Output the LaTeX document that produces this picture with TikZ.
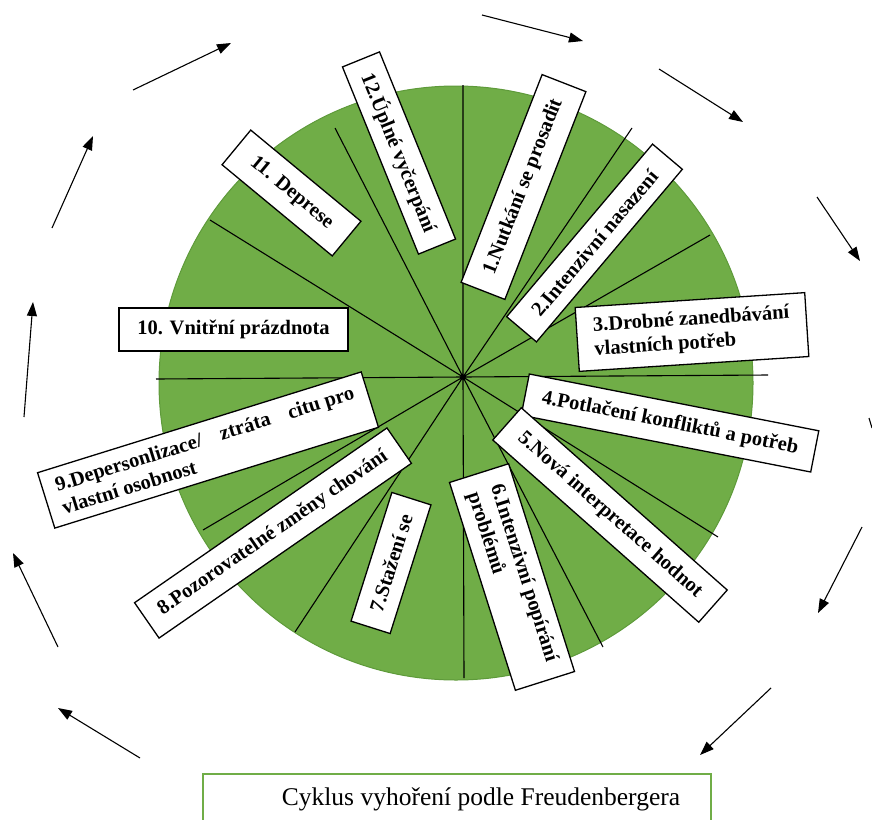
\documentclass[tikz,border=0pt]{standalone}
\usepackage{fontspec}
\setmainfont{Liberation Serif}
\usetikzlibrary{arrows.meta}
\definecolor{grn}{HTML}{70AD47}
\definecolor{grnd}{HTML}{5E9A3A}
\begin{document}
\begin{tikzpicture}[x=1pt,y=-1pt,
  lab/.style={draw=black, line width=1.3pt, fill=white, inner sep=0pt,
    font=\bfseries\fontsize{20.5}{24}\selectfont, align=center},
  spoke/.style={line width=1.1pt},
  cyc/.style={line width=1.1pt, -{Triangle[length=14pt,width=10pt]}}]
\useasboundingbox (0,0) rectangle (872,819);
% disc
\node[circle, minimum size=594pt, inner sep=0pt, fill=grn, draw=grnd, line width=1pt] (disc) at (456,383) {};
% spokes
\coordinate (hub) at (463,377);
\coordinate (s1) at (463,85);
\coordinate (s2) at (632,128);
\coordinate (s3) at (710,235);
\coordinate (s4) at (768,375);
\coordinate (s5) at (718,537);
\coordinate (s6) at (603,647);
\coordinate (s7) at (464,678);
\coordinate (s8) at (295,632);
\coordinate (s9) at (203,530);
\coordinate (s10) at (156,379);
\coordinate (s11) at (210,220);
\coordinate (s12) at (335,128);
\draw[spoke] (hub) -- (s1) (hub) -- (s2) (hub) -- (s3) (hub) -- (s4)
  (hub) -- (s5) (hub) -- (s6) (hub) -- (s7) (hub) -- (s8)
  (hub) -- (s9) (hub) -- (s10) (hub) -- (s11) (hub) -- (s12);
% boxes
\node[lab, minimum width=223pt, minimum height=47pt, rotate=68.7] (b1) at (523.5,187) {1.Nutkání se prosadit};
\node[lab, minimum width=226pt, minimum height=39pt, rotate=49.8] (b2) at (594.5,243) {2.Intenzivní nasazení};
\node[lab, minimum width=230pt, minimum height=64pt, rotate=3.7, align=left] (b3) at (692,332) {3.Drobné zanedbávání\\vlastních potřeb};
\node[lab, minimum width=295pt, minimum height=42pt, rotate=-11.1] (b4) at (670,423) {4.Potlačení konfliktů a potřeb};
\node[lab, minimum width=275pt, minimum height=43pt, rotate=-41.5] (b5) at (610,515) {5.Nová interpretace hodnot};
\node[lab, minimum width=218pt, minimum height=62pt, rotate=-72.4, align=left] (b6) at (512,577) {6.Intenzivní popírání\\problémů};
\node[lab, minimum width=135pt, minimum height=41pt, rotate=72.4] (b7) at (391,563) {7.Stažení se};
\node[lab, minimum width=307pt, minimum height=43pt, rotate=34.7] (b8) at (273,533) {8.Pozorovatelné změny chování};
\node[lab, minimum width=339pt, minimum height=58pt, rotate=17.3, align=left] (b9) at (208,450)
  {\parbox{312pt}{9.Depersonlizace/\hfill ztráta\hfill citu pro\\vlastní osobnost}};
\node[lab, minimum width=229pt, minimum height=43pt] (b10) at (233.5,329.5) {10. Vnitřní prázdnota};
\node[lab, minimum width=143pt, minimum height=45pt, rotate=-39.6] (b11) at (291.5,193) {11. Deprese};
\node[lab, minimum width=202pt, minimum height=40pt, rotate=-67.9] (b12) at (399,153) {12.Úplné vyčerpání};
% cycle arrows
\coordinate (a1s) at (482,15);  \coordinate (a1t) at (583,41);
\coordinate (a2s) at (659,69);  \coordinate (a2t) at (743,122);
\coordinate (a3s) at (817,197); \coordinate (a3t) at (860,261);
\coordinate (a4s) at (862,527); \coordinate (a4t) at (818,613);
\coordinate (a5s) at (771,688); \coordinate (a5t) at (700,755);
\coordinate (a6s) at (140,758); \coordinate (a6t) at (58,708);
\coordinate (a7s) at (58,647);  \coordinate (a7t) at (13,553);
\coordinate (a8s) at (24,417);  \coordinate (a8t) at (33,302);
\coordinate (a9s) at (52,228);  \coordinate (a9t) at (93,136);
\coordinate (a10s) at (133,90); \coordinate (a10t) at (231,43);
\draw[cyc] (a1s) -- (a1t);
\draw[cyc] (a2s) -- (a2t);
\draw[cyc] (a3s) -- (a3t);
\draw[cyc] (a4s) -- (a4t);
\draw[cyc] (a5s) -- (a5t);
\draw[cyc] (a6s) -- (a6t);
\draw[cyc] (a7s) -- (a7t);
\draw[cyc] (a8s) -- (a8t);
\draw[cyc] (a9s) -- (a9t);
\draw[cyc] (a10s) -- (a10t);
\coordinate (t1) at (869,418); \coordinate (t2) at (872,428);
\draw[line width=1.1pt] (t1) -- (t2);
% caption
\node[draw=grn, line width=2pt, minimum width=508pt, minimum height=70pt, anchor=north west, inner sep=0pt] (cap) at (202,773) {};
\node[font=\fontsize{25.5}{30}\selectfont, inner sep=0pt] (captxt) at (481,799) {Cyklus vyhoření podle Freudenbergera};
\end{tikzpicture}
\end{document}
